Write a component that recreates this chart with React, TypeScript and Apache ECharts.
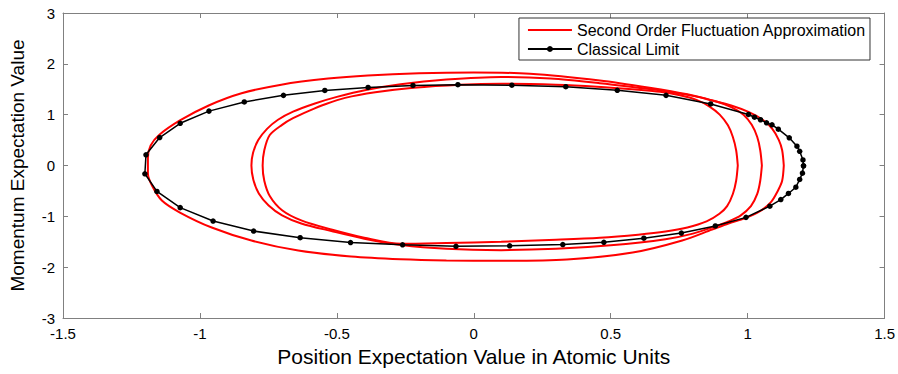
import React, { useEffect, useRef } from "react";
import * as echarts from "echarts";

const xTicks = [-1.5, 1.5, 0.5];
const yTicks = [-3, 3, 1];
const xTitle = "Position Expectation Value in Atomic Units";
const yTitle = "Momentum Expectation Value";
const redName = "Second Order Fluctuation Approximation";
const blackName = "Classical Limit";

// Classical limit trajectory (x, p)
const classicalPoints: number[][] = [
  [1.204, -0.006], [1.2, -0.15], [1.19, -0.275], [1.176, -0.427], [1.149, -0.55],
  [1.121, -0.67], [1.081, -0.8], [0.994, -1.02], [0.882, -1.19], [0.758, -1.33],
  [0.621, -1.43], [0.475, -1.51], [0.325, -1.555], [0.131, -1.58], [-0.065, -1.59],
  [-0.26, -1.56], [-0.45, -1.516], [-0.634, -1.42], [-0.804, -1.29], [-0.952, -1.093],
  [-1.072, -0.829], [-1.157, -0.51], [-1.201, -0.163], [-1.197, 0.21], [-1.147, 0.55],
  [-1.072, 0.83], [-0.967, 1.07], [-0.838, 1.25], [-0.695, 1.38], [-0.544, 1.476],
  [-0.386, 1.535], [-0.222, 1.575], [-0.058, 1.59], [0.139, 1.58], [0.336, 1.55],
  [0.524, 1.48], [0.702, 1.38], [0.865, 1.21], [1.003, 1.004], [1.025, 0.95],
  [1.047, 0.9], [1.069, 0.84], [1.089, 0.8], [1.112, 0.715], [1.152, 0.545],
  [1.18, 0.38], [1.19, 0.28], [1.202, 0.11], [1.204, -0.006],
];

// Second order fluctuation approximation: outer loop
const fluctLoop1: number[][] = [
  [1.132, 0], [1.126, -0.3], [1.11, -0.5], [1.085, -0.72], [1.045, -0.9],
  [0.99, -1.04], [0.93, -1.14], [0.87, -1.26], [0.761, -1.476], [0.58, -1.713],
  [0.34, -1.85], [0.1, -1.875], [-0.1, -1.868], [-0.267, -1.845], [-0.448, -1.791],
  [-0.641, -1.673], [-0.812, -1.476], [-0.957, -1.22], [-1.073, -0.925], [-1.139, -0.689],
  [-1.175, -0.394], [-1.19, -0.15], [-1.19, 0.15], [-1.18, 0.394], [-1.149, 0.6],
  [-1.073, 0.886], [-0.968, 1.18], [-0.848, 1.42], [-0.703, 1.59], [-0.532, 1.71],
  [-0.387, 1.772], [-0.2, 1.815], [0.0, 1.83], [0.205, 1.805], [0.46, 1.673],
  [0.642, 1.53], [0.78, 1.4], [0.87, 1.28], [0.94, 1.18], [1.005, 1.05],
  [1.055, 0.9], [1.09, 0.72], [1.114, 0.5], [1.126, 0.3], [1.132, 0],
];

// middle loop
const fluctLoop2: number[][] = [
  [1.052, 0], [1.046, -0.3], [1.035, -0.56], [1.012, -0.8], [0.975, -0.98],
  [0.93, -1.1], [0.885, -1.19], [0.8, -1.34], [0.7, -1.45], [0.5, -1.57],
  [0.3, -1.64], [0.1, -1.665], [-0.1, -1.64], [-0.265, -1.565], [-0.4, -1.44],
  [-0.52, -1.29], [-0.63, -1.14], [-0.7, -0.98], [-0.75, -0.78], [-0.785, -0.55],
  [-0.805, -0.28], [-0.812, 0], [-0.806, 0.25], [-0.787, 0.5], [-0.755, 0.72],
  [-0.715, 0.9], [-0.66, 1.06], [-0.58, 1.22], [-0.5, 1.35], [-0.39, 1.49],
  [-0.267, 1.6], [-0.1, 1.69], [0.1, 1.74], [0.28, 1.71], [0.46, 1.62],
  [0.6, 1.53], [0.7, 1.46], [0.8, 1.37], [0.88, 1.27], [0.94, 1.15],
  [0.985, 1.0], [1.015, 0.8], [1.035, 0.56], [1.046, 0.3], [1.052, 0],
];

// inner loop
const fluctLoop3: number[][] = [
  [0.964, 0], [0.958, -0.3], [0.946, -0.56], [0.925, -0.8], [0.897, -0.95],
  [0.85, -1.1], [0.78, -1.22], [0.7, -1.3], [0.6, -1.36], [0.46, -1.42],
  [0.3, -1.46], [0.1, -1.5], [-0.1, -1.525], [-0.265, -1.54], [-0.4, -1.42],
  [-0.52, -1.26], [-0.63, -1.08], [-0.7, -0.88], [-0.745, -0.6], [-0.765, -0.3],
  [-0.771, 0], [-0.765, 0.3], [-0.745, 0.6], [-0.7, 0.8], [-0.66, 0.93],
  [-0.6, 1.08], [-0.54, 1.21], [-0.47, 1.33], [-0.36, 1.44], [-0.22, 1.53],
  [-0.05, 1.59], [0.1, 1.61], [0.3, 1.59], [0.45, 1.55], [0.6, 1.49],
  [0.68, 1.45], [0.753, 1.38], [0.813, 1.29], [0.861, 1.16], [0.898, 1.0],
  [0.928, 0.79], [0.946, 0.56], [0.958, 0.3], [0.964, 0],
];

const FONT = "Liberation Sans, Arial, Helvetica, sans-serif";
const AXIS_GRAY = "#808080";

export default function App() {
  const ref = useRef<HTMLDivElement>(null);
  useEffect(() => {
    if (!ref.current) return;
    const chart = echarts.init(ref.current, undefined, { renderer: "svg" });
    const axisCommon = {
      axisLine: { show: true, onZero: false, lineStyle: { color: AXIS_GRAY, width: 1 } },
      axisTick: { show: true, inside: true, length: 5, lineStyle: { color: AXIS_GRAY } },
      splitLine: { show: false },
    };
    const redSeries = [fluctLoop1, fluctLoop2, fluctLoop3].map((loop) => ({
      name: redName,
      type: "line",
      data: loop,
      smooth: 0.3,
      symbol: "none",
      lineStyle: { color: "#ff0000", width: 2 },
      itemStyle: { color: "#ff0000" },
      z: 2,
    }));
    chart.setOption({
      animation: false,
      backgroundColor: "#ffffff",
      grid: { left: 61, right: 12, top: 13, bottom: 56, containLabel: false },
      legend: {
        data: [
          {
            name: redName,
            itemStyle: { color: "rgba(0,0,0,0)", borderWidth: 0 },
            lineStyle: { color: "#ff0000", width: 2 },
          },
          { name: blackName },
        ],
        orient: "vertical",
        right: 28,
        top: 18,
        padding: [4, 4, 3, 8],
        itemGap: 3,
        itemWidth: 44,
        itemHeight: 7.5,
        backgroundColor: "#ffffff",
        borderColor: "#333333",
        borderWidth: 1,
        textStyle: { fontSize: 16, fontFamily: FONT, color: "#000" },
      },
      xAxis: [
        {
          type: "value",
          min: xTicks[0],
          max: xTicks[1],
          interval: xTicks[2],
          position: "bottom",
          ...axisCommon,
          axisLabel: { fontSize: 15, fontFamily: FONT, color: "#000", margin: 8 },
          name: xTitle,
          nameLocation: "middle",
          nameGap: 25,
          nameTextStyle: { fontSize: 21, fontFamily: FONT, color: "#000" },
        },
        {
          type: "value",
          min: xTicks[0],
          max: xTicks[1],
          interval: xTicks[2],
          position: "top",
          ...axisCommon,
          axisLabel: { show: false },
        },
      ],
      yAxis: [
        {
          type: "value",
          min: yTicks[0],
          max: yTicks[1],
          interval: yTicks[2],
          position: "left",
          ...axisCommon,
          axisLabel: { fontSize: 15, fontFamily: FONT, color: "#000", margin: 8 },
          name: yTitle,
          nameLocation: "middle",
          nameGap: 36,
          nameTextStyle: { fontSize: 19, fontFamily: FONT, color: "#000" },
        },
        {
          type: "value",
          min: yTicks[0],
          max: yTicks[1],
          interval: yTicks[2],
          position: "right",
          ...axisCommon,
          axisLabel: { show: false },
        },
      ],
      series: [
        ...redSeries,
        {
          name: blackName,
          type: "line",
          data: classicalPoints,
          symbol: "circle",
          symbolSize: 5.5,
          lineStyle: { color: "#000000", width: 1.5 },
          itemStyle: { color: "#000000" },
          z: 3,
        },
      ],
    });
    return () => chart.dispose();
  }, []);
  return (
    <div
      ref={ref}
      style={{ position: "absolute", left: 0, top: 0, width: 898, height: 374 }}
    />
  );
}
